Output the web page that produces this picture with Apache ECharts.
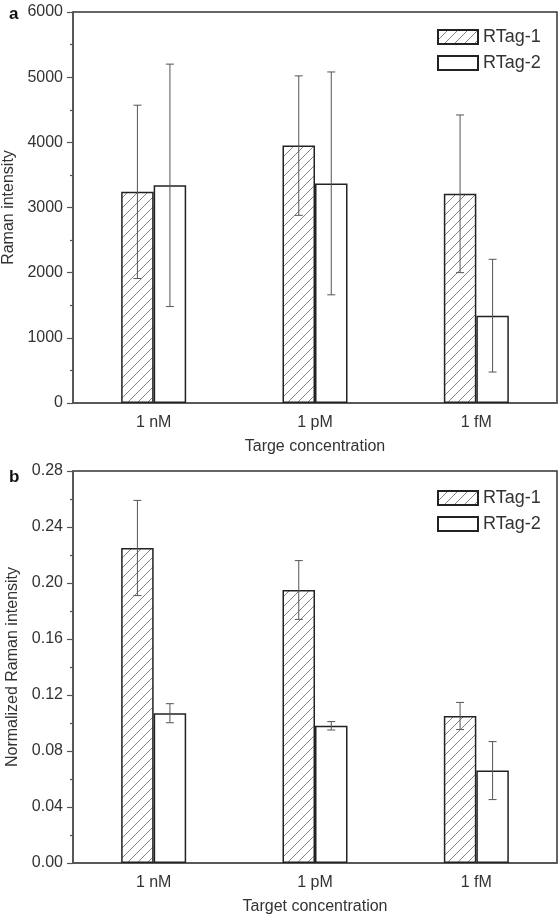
<!DOCTYPE html>
<html>
<head>
<meta charset="utf-8">
<script src="https://cdn.jsdelivr.net/npm/echarts@6/dist/echarts.min.js"></script>
<style>html,body{margin:0;padding:0;background:#fff}#c{width:559px;height:917px}</style>
</head>
<body>
<div id="c"></div>
<script>
// ---- data ----
var categories = ['1 nM', '1 pM', '1 fM'];
var seriesNames = ['RTag-1', 'RTag-2'];
// panel a
var rawTag1 = [3240, 3950, 3210];
var rawTag1Err = [1330, 1070, 1210];
var rawTag2 = [3340, 3370, 1340];
var rawTag2Err = [1860, 1710, 865];
// panel b
var normTag1 = [0.225, 0.195, 0.105];
var normTag1Err = [0.034, 0.021, 0.0097];
var normTag2 = [0.107, 0.098, 0.066];
var normTag2Err = [0.0068, 0.003, 0.0207];
var yTicksA = [0, 1000, 2000, 3000, 4000, 5000, 6000];
var yTicksB = ['0.00', '0.04', '0.08', '0.12', '0.16', '0.20', '0.24', '0.28'];

// ---- hatch pattern ----
var cv = document.createElement('canvas');
cv.width = 10; cv.height = 10;
var cx = cv.getContext('2d');
cx.fillStyle = '#fff'; cx.fillRect(0, 0, 10, 10);
cx.strokeStyle = '#777'; cx.lineWidth = 0.9;
cx.beginPath();
cx.moveTo(0, 10); cx.lineTo(10, 0);
cx.moveTo(-1, 1); cx.lineTo(1, -1);
cx.moveTo(9, 11); cx.lineTo(11, 9);
cx.stroke();
var hatch = { image: cv, repeat: 'repeat' };

var FONT = 'Liberation Sans';
var TXT = '#333';
var BARW = 32.5;

function errData(vals, errs) {
  return vals.map(function (v, i) { return [i, v - errs[i], v + errs[i]]; });
}
function errSeries(idx, vals, errs, offset) {
  return {
    type: 'custom', xAxisIndex: idx * 2, yAxisIndex: idx, z: 10, silent: true,
    data: errData(vals, errs),
    renderItem: function (params, api) {
      var lo = api.coord([api.value(0), api.value(1)]);
      var hi = api.coord([api.value(0), api.value(2)]);
      var x = lo[0] + offset, w = 4;
      var st = { stroke: '#555', lineWidth: 1 };
      return { type: 'group', children: [
        { type: 'line', shape: { x1: x, y1: lo[1], x2: x, y2: hi[1] }, style: st },
        { type: 'line', shape: { x1: x - w, y1: lo[1], x2: x + w, y2: lo[1] }, style: st },
        { type: 'line', shape: { x1: x - w, y1: hi[1], x2: x + w, y2: hi[1] }, style: st }
      ]};
    }
  };
}
function barSeries(idx, name, vals, hatched) {
  return {
    name: name, type: 'bar', xAxisIndex: idx * 2, yAxisIndex: idx,
    barWidth: BARW, barGap: '0%', data: vals,
    itemStyle: { color: hatched ? hatch : '#fff', borderColor: '#222', borderWidth: 1.5 },
    emphasis: { disabled: true }
  };
}
function xAxes(idx, name) {
  return [{
    type: 'category', gridIndex: idx, data: categories, position: 'bottom',
    name: name, nameLocation: 'middle', nameGap: 36,
    nameTextStyle: { fontFamily: FONT, fontSize: 16, color: TXT },
    axisLine: { lineStyle: { color: '#555', width: 1.5 } },
    axisTick: { alignWithLabel: true, length: 6, lineStyle: { color: '#555', width: 1.2 } },
    axisLabel: { fontFamily: FONT, fontSize: 16, color: TXT, margin: 12 }
  }, {
    type: 'category', gridIndex: idx, data: categories, position: 'bottom',
    axisLine: { show: false },
    axisTick: { length: 3, lineStyle: { color: '#555', width: 1.2 } },
    axisLabel: { show: false }
  }];
}
function yAxis(idx, name, max, interval, labels) {
  return {
    type: 'value', gridIndex: idx, min: 0, max: max, interval: interval,
    name: name, nameLocation: 'middle', nameGap: 51,
    nameTextStyle: { fontFamily: FONT, fontSize: 16, color: TXT },
    axisLine: { show: true, lineStyle: { color: '#555', width: 1.5 } },
    axisTick: { show: true, length: 6, lineStyle: { color: '#555', width: 1.2 } },
    minorTick: { show: true, splitNumber: 2, length: 3, lineStyle: { color: '#555', width: 1.2 } },
    splitLine: { show: false },
    axisLabel: {
      fontFamily: FONT, fontSize: 16, color: TXT, margin: 10,
      formatter: function (v) {
        var i = Math.round(v / interval);
        return labels[i] !== undefined ? String(labels[i]) : '';
      }
    }
  };
}
function legend(idx, top) {
  return {
    data: seriesNames, orient: 'vertical', left: 432, top: top,
    itemWidth: 40, itemHeight: 14, itemGap: 8, icon: 'rect',
    selectedMode: false,
    textStyle: { fontFamily: FONT, fontSize: 18, color: TXT }
  };
}

var chart = echarts.init(document.getElementById('c'), null, { renderer: 'canvas' });
chart.setOption({
  animation: false,
  backgroundColor: '#fff',
  title: [
    { text: 'a', left: 4, top: 1, textStyle: { fontFamily: FONT, fontSize: 17, fontWeight: 'bold', color: '#111' } },
    { text: 'b', left: 4, top: 464, textStyle: { fontFamily: FONT, fontSize: 17, fontWeight: 'bold', color: '#111' } }
  ],
  grid: [
    { left: 73, right: 2, top: 12, height: 391, show: true, borderColor: '#333', borderWidth: 1.5, backgroundColor: 'transparent', containLabel: false, outerBoundsMode: 'none' },
    { left: 73, right: 2, top: 471, height: 392, show: true, borderColor: '#333', borderWidth: 1.5, backgroundColor: 'transparent', containLabel: false, outerBoundsMode: 'none' }
  ],
  legend: [legend(0, 23), legend(1, 484)],
  xAxis: xAxes(0, 'Targe concentration').concat(xAxes(1, 'Target concentration')),
  yAxis: [
    yAxis(0, 'Raman intensity', 6000, 1000, yTicksA),
    yAxis(1, 'Normalized Raman intensity', 0.28, 0.04, yTicksB)
  ],
  series: [
    barSeries(0, 'RTag-1', rawTag1, true),
    barSeries(0, 'RTag-2', rawTag2, false),
    errSeries(0, rawTag1, rawTag1Err, -BARW / 2),
    errSeries(0, rawTag2, rawTag2Err, BARW / 2),
    barSeries(1, 'RTag-1', normTag1, true),
    barSeries(1, 'RTag-2', normTag2, false),
    errSeries(1, normTag1, normTag1Err, -BARW / 2),
    errSeries(1, normTag2, normTag2Err, BARW / 2)
  ]
});
</script>
</body>
</html>
